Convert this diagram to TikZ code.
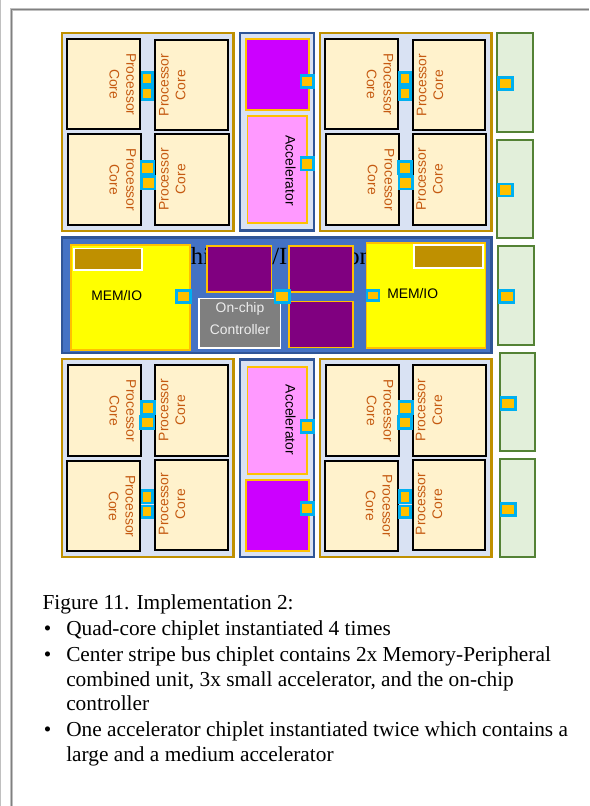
\documentclass[tikz,border=0pt]{standalone}
\usepackage{fontspec}
\setmainfont{Liberation Serif}
\setsansfont{Liberation Sans}
\definecolor{gold}{HTML}{BF9000}
\definecolor{amber}{HTML}{FFC000}
\definecolor{sky}{HTML}{00B0F0}
\definecolor{pale}{HTML}{D9E2F3}
\definecolor{cream}{HTML}{FFF2CC}
\definecolor{rust}{HTML}{C55A11}
\definecolor{navy}{HTML}{2F5597}
\definecolor{midblue}{HTML}{4472C4}
\definecolor{violet2}{HTML}{CC00FF}
\definecolor{plum}{HTML}{800080}
\definecolor{pinkish}{HTML}{FF99FF}
\definecolor{leaf}{HTML}{E2EFDA}
\definecolor{leafline}{HTML}{548235}
\definecolor{greybox}{HTML}{7F7F7F}
\definecolor{pureyellow}{HTML}{FFFF00}
\definecolor{framegrey}{HTML}{808080}
\definecolor{framelight}{HTML}{C0C0C0}
\definecolor{ctrltext}{HTML}{EDEDED}
\tikzset{
  x=0.75pt,y=-0.75pt,
  chiplet/.style={draw=gold,fill=pale,line width=1.9pt},
  midchip/.style={draw=navy,fill=pale,line width=1.9pt},
  stripe/.style={draw=navy,fill=midblue,line width=1.9pt},
  corebox/.style={draw=black,fill=cream,line width=1.3pt},
  port/.style={draw=sky,fill=amber,line width=1.9pt},
  bigaccel/.style={draw=amber,fill=violet2,line width=1.3pt},
  medaccel/.style={draw=amber,fill=pinkish,line width=1.3pt},
  smallaccel/.style={draw=amber,fill=plum,line width=1.1pt},
  memio/.style={draw=amber,fill=pureyellow,line width=1.3pt},
  brown/.style={draw=white,fill=gold,line width=1.3pt},
  ctrl/.style={draw=white,fill=greybox,line width=1.3pt},
  sidebox/.style={draw=leafline,fill=leaf,line width=1.5pt},
  coretext/.style={font=\sffamily\fontsize{10.4}{12.6}\selectfont,text=rust,align=center,inner sep=0pt},
  blacktext/.style={font=\sffamily\fontsize{10.4}{12.6}\selectfont,text=black,inner sep=0pt},
  body/.style={font=\fontsize{16}{16}\selectfont,text=black,anchor=base west,inner sep=0pt},
  bul/.style={font=\fontsize{16}{16}\selectfont,text=black,anchor=base,inner sep=0pt},
  bgtext/.style={font=\fontsize{18.5}{19}\selectfont,text=black,anchor=base west,inner sep=0pt},
}
\newcommand{\bx}[5]{\draw[#1] (#2,#3) rectangle (#4,#5);}
\newcommand{\corecell}[8]{%
  \draw[corebox] (#2,#3) rectangle (#4,#5);
  \node[coretext,rotate=#8] (#1) at (#6,#7) {Processor\\Core};}
\begin{document}
\begin{tikzpicture}
\useasboundingbox (0,0) rectangle (589,806);
\fill[white] (0,0) rectangle (589,806);
% page frame
\draw[framelight,line width=2.2pt] (11.3,806) -- (11.3,9.5) -- (589,9.5);
\draw[framegrey,line width=1.1pt] (11.3,806) -- (11.3,9.5) -- (589,9.5);
\draw[framelight,line width=1pt] (0.6,0) -- (0.6,806);

% top-left quad
\bx{chiplet}{62}{33}{233.7}{231}
\corecell{c1}{67.3}{39}{140.3}{129.3}{122.7}{84.3}{-90}
\corecell{c2}{155}{39.7}{228}{130.3}{172.3}{85}{90}
\corecell{c3}{68.3}{134.3}{141}{224.7}{122.7}{180}{-90}
\corecell{c4}{155}{134.3}{228.7}{225.3}{172.3}{179.3}{90}
\bx{port}{142}{72.7}{152.7}{84.7}
\bx{port}{142}{87.7}{152.7}{99.7}
\bx{port}{141}{161.7}{154}{174}
\bx{port}{141.7}{176.7}{155}{189}

% top centre
\bx{midchip}{240}{33}{314}{230.7}
\bx{bigaccel}{246.2}{39.2}{308.8}{110}
\bx{medaccel}{247.5}{116.2}{306.8}{223.2}
\node[blacktext,rotate=-90] (a1) at (290.5,170.7) {Accelerator};
\bx{port}{301}{75.3}{313.3}{87.3}
\bx{port}{301}{157.7}{313.3}{170}

% top-right quad
\bx{chiplet}{320}{33}{491.3}{231}
\corecell{c5}{324.7}{39}{397.7}{129.3}{380}{84.3}{-90}
\corecell{c6}{412.7}{40}{485.3}{130.3}{430}{85}{90}
\corecell{c7}{325.7}{134.3}{398.7}{224.7}{381}{180}{-90}
\corecell{c8}{412.7}{134.3}{485.7}{225.3}{429.5}{179.3}{90}
\bx{port}{399.7}{72.7}{410.3}{84.7}
\bx{port}{399.7}{87.7}{410.3}{99.7}
\bx{port}{398.3}{161.7}{411.7}{174}
\bx{port}{399}{176.7}{412.3}{189}

% top side boxes
\bx{sidebox}{496.7}{33.5}{532.5}{131.8}
\bx{sidebox}{496.7}{140}{532.5}{238}
\bx{port}{498.3}{77.7}{512.3}{89.7}
\bx{port}{498.3}{184}{512.3}{196}

% centre stripe
\bx{stripe}{62}{237.5}{491.5}{353}
\node[bgtext] (h1) at (190.5,264) {hi};
\node[bgtext] (h2) at (272,264) {/I};
\node[bgtext] (h3) at (347,264) {on};
\bx{memio}{71}{245.3}{189.7}{350}
\bx{brown}{74}{248.6}{142}{270}
\node[blacktext] (m1) at (116.7,296) {MEM/IO};
\bx{port}{176.7}{290.3}{190.7}{302.7}
\bx{smallaccel}{207}{246}{271.4}{292}
\bx{smallaccel}{289}{246}{353}{292}
\bx{smallaccel}{289}{301.3}{353}{347.4}
\bx{ctrl}{199}{298.6}{280.4}{348}
\node[coretext,text=ctrltext,font=\sffamily\fontsize{10.4}{16.5}\selectfont] (k1) at (240,318.3) {On-chip\\Controller};
\bx{port}{275}{290.3}{289.7}{302.7}
\bx{memio}{366.6}{243}{485.4}{347.7}
\bx{brown}{414.3}{245.3}{483}{268}
\node[blacktext] (m2) at (412.7,294) {MEM/IO};
\bx{port}{367}{290.3}{379}{300.7}
\bx{sidebox}{498}{246.3}{534.4}{345}
\bx{port}{499.3}{290.7}{514}{302.7}

% bottom-left quad
\bx{chiplet}{62}{359}{233.7}{557.2}
\corecell{c9}{68}{365}{141}{455.7}{122.7}{411}{-90}
\corecell{c10}{155}{365}{228.3}{456}{172}{410}{90}
\corecell{c11}{67.3}{460.7}{140.3}{551.3}{122}{506.3}{-90}
\corecell{c12}{155}{460}{228}{550.3}{172}{504}{90}
\bx{port}{141.3}{401.7}{154.7}{414}
\bx{port}{140.7}{416.3}{154}{428.7}
\bx{port}{142}{490.3}{152.7}{503}
\bx{port}{142}{506}{152.7}{517.7}

% bottom centre
\bx{midchip}{240}{359.6}{314}{557}
\bx{medaccel}{247.5}{366.9}{306.8}{473.8}
\bx{bigaccel}{246.2}{480.2}{308.8}{550.8}
\node[blacktext,rotate=-90] (a2) at (290.7,420) {Accelerator};
\bx{port}{301}{420.3}{313.3}{432.3}
\bx{port}{301}{502.7}{313.3}{514.7}

% bottom-right quad
\bx{chiplet}{320}{359}{491.3}{557.2}
\corecell{c13}{325.7}{365}{398.7}{455.7}{380}{411}{-90}
\corecell{c14}{412.7}{365}{485.7}{456}{429}{410}{90}
\corecell{c15}{324.7}{460.7}{397.7}{551.3}{379}{506}{-90}
\corecell{c16}{412.7}{460}{485.3}{550.3}{429}{504}{90}
\bx{port}{399}{401.7}{412.3}{414}
\bx{port}{398.3}{416.3}{411.7}{428.7}
\bx{port}{399.7}{490.3}{410.3}{503}
\bx{port}{399.7}{506}{410.3}{517.7}

% bottom side boxes
\bx{sidebox}{499.6}{353.3}{535.4}{451}
\bx{sidebox}{499.6}{459.3}{535.4}{557.4}
\bx{port}{501}{397.3}{515.3}{409.3}
\bx{port}{501}{503.3}{515.3}{515.3}

% caption
\node[body] (t0) at (42.3,609.3) {Figure 11. Implementation 2:};
\node[bul] (b1) at (47.6,635) {•};
\node[body] (t1) at (66,635) {Quad-core chiplet instantiated 4 times};
\node[bul] (b2) at (47.6,661) {•};
\node[body] (t2) at (66,661) {Center stripe bus chiplet contains 2x Memory-Peripheral};
\node[body] (t3) at (66,686) {combined unit, 3x small accelerator, and the on-chip};
\node[body] (t4) at (66,710) {controller};
\node[bul] (b3) at (47.6,736.5) {•};
\node[body] (t5) at (66,736.5) {One accelerator chiplet instantiated twice which contains a};
\node[body] (t6) at (66,761.5) {large and a medium accelerator};
\end{tikzpicture}
\end{document}
